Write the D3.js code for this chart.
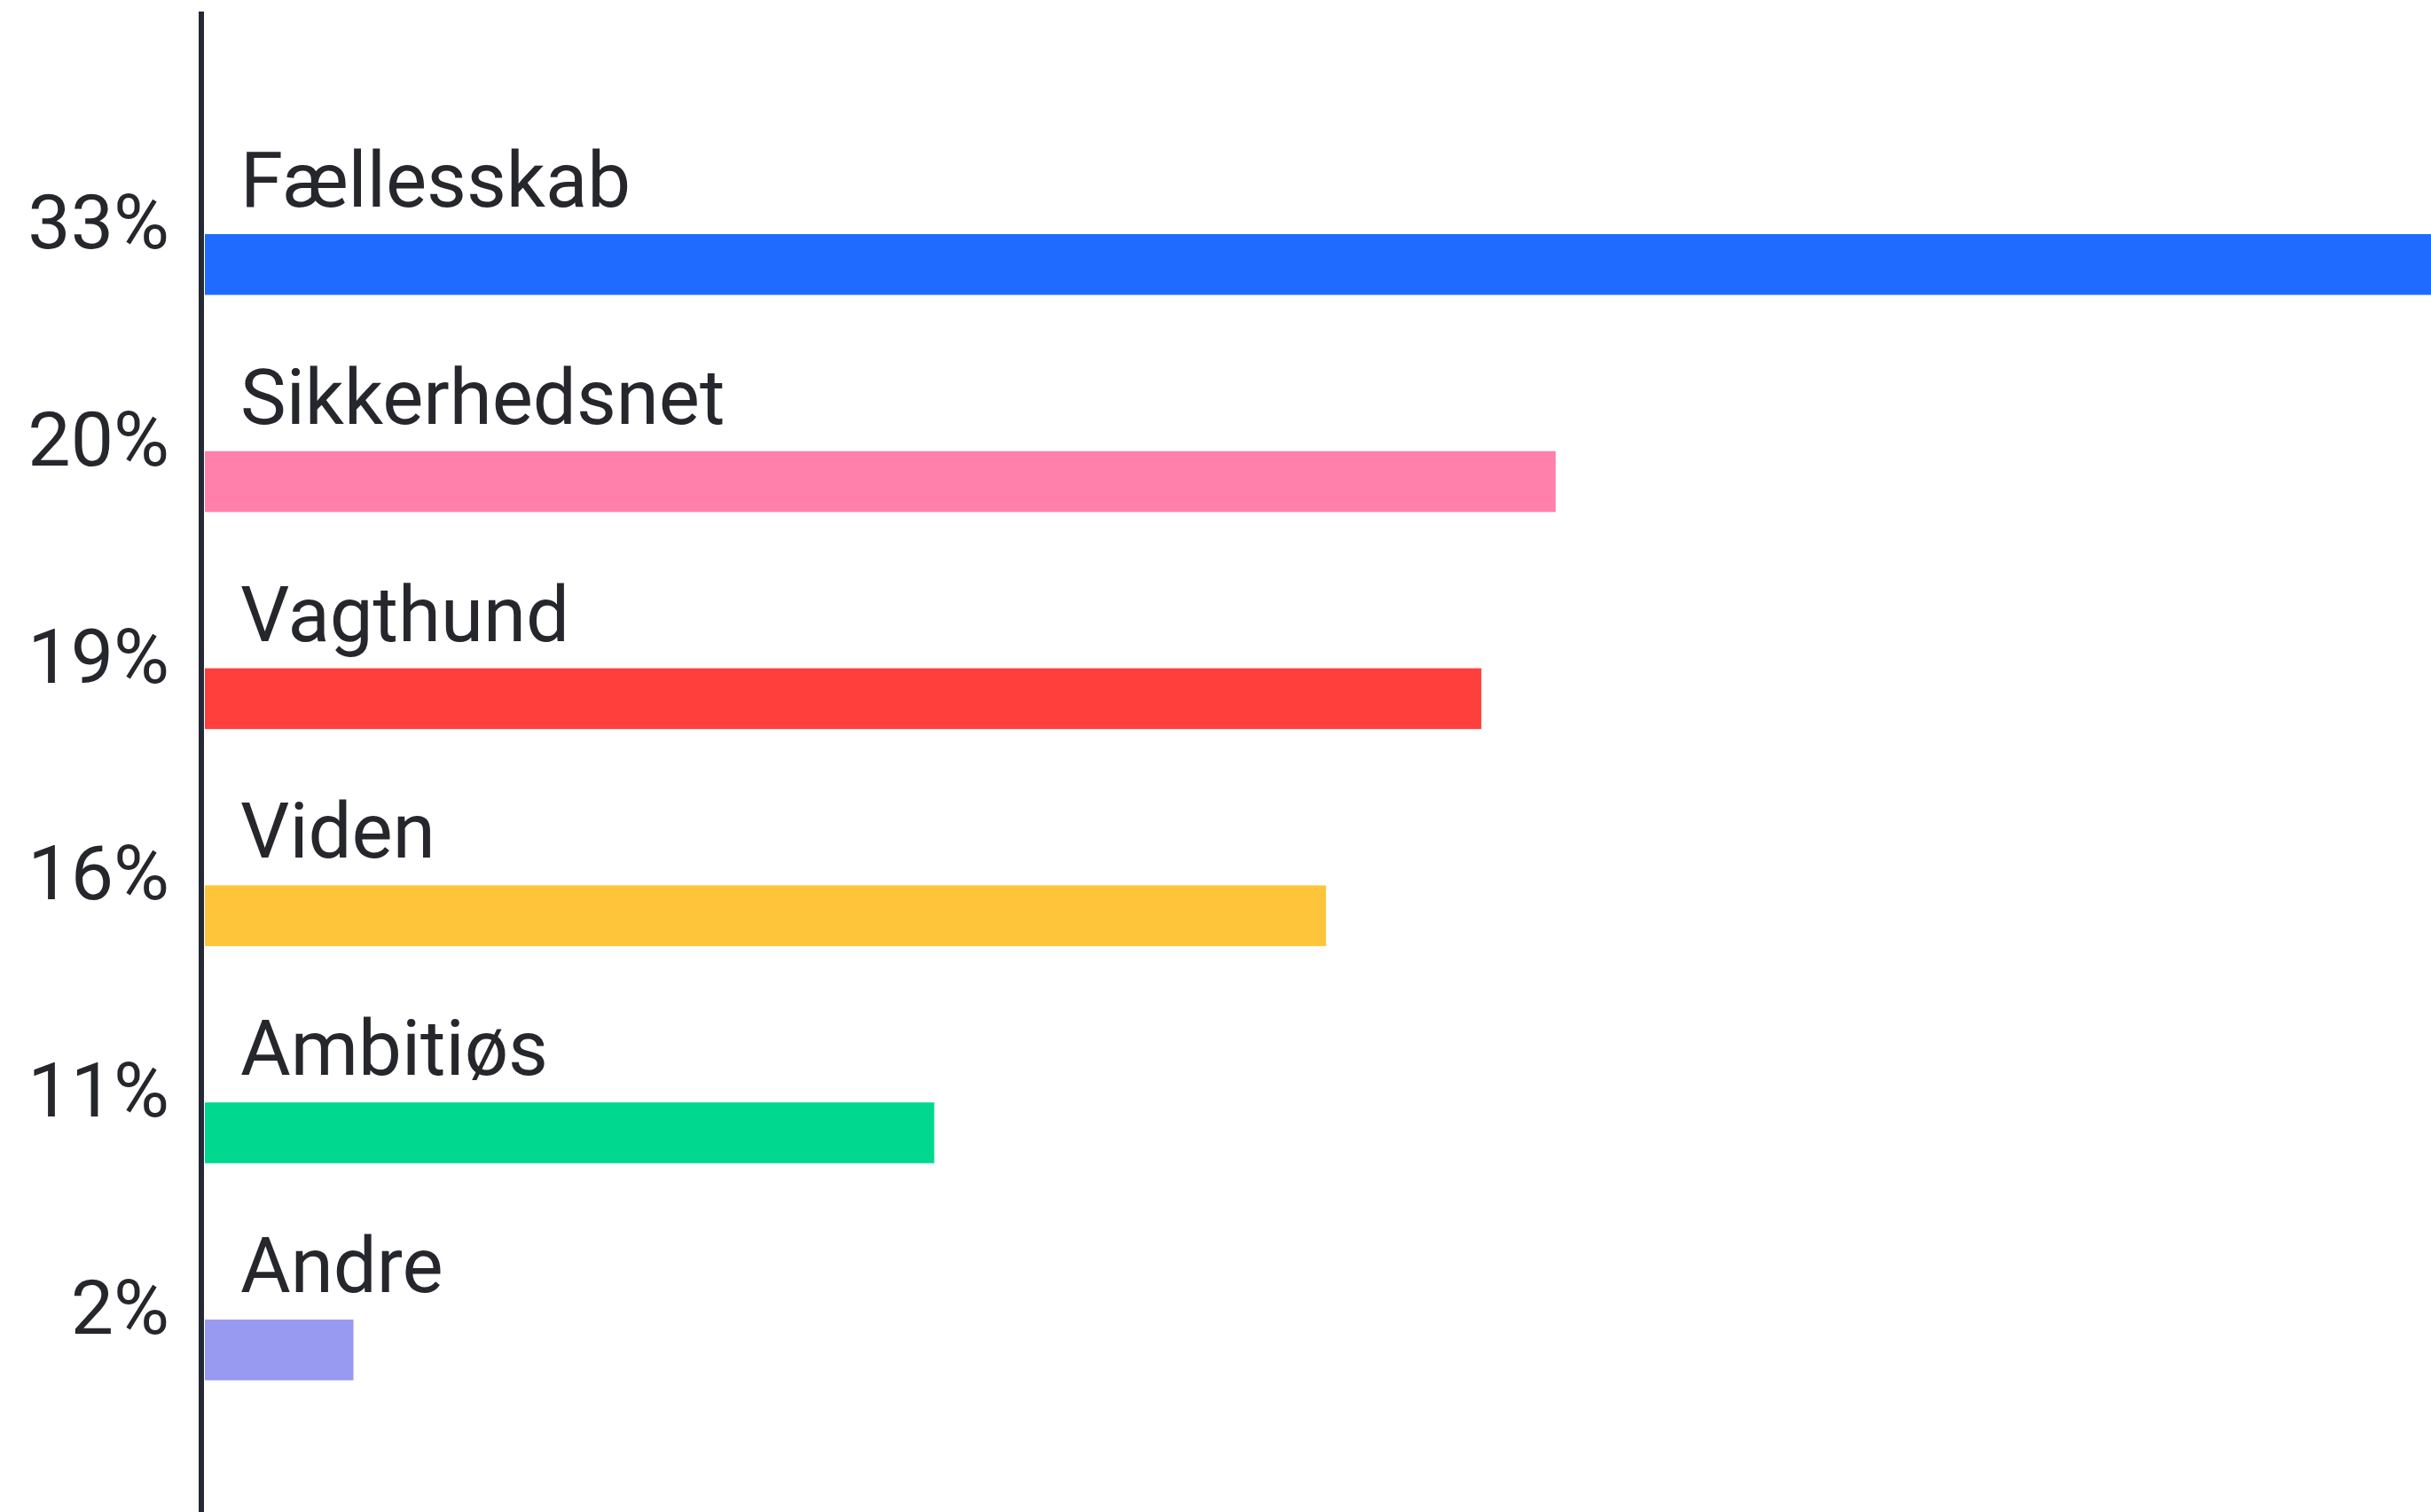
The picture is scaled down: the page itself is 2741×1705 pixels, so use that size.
<!DOCTYPE html>
<html>
<head>
<meta charset="utf-8">
<script src="https://cdn.jsdelivr.net/npm/d3@7"></script>
<style>
  body { margin: 0; background: #fff; }
  svg { display: block; }
</style>
</head>
<body>
<div class="chartHolder"></div>
<script>
var w = 2741,
    h = 1705;

// data (bar lengths) + the printed labels
var categories = ["Fællesskab", "Sikkerhedsnet", "Vagthund", "Viden", "Ambitiøs", "Andre"];
var values = [33.2, 20.0, 18.9, 16.6, 10.8, 2.2];
var valueLabels = ["33%", "20%", "19%", "16%", "11%", "2%"];
var colors = ["#1f6bff", "#ff80aa", "#ff3f3b", "#ffc53a", "#00d890", "#989af1"];

var textColor = "#25272d";

var svg = d3.select(".chartHolder").append("svg")
    .attr("width", w)
    .attr("height", h);

var x = d3.scaleLinear()
    .domain([0, 33])
    .range([231, 2744]);

var y = d3.scaleBand()
    .domain(categories)
    .range([264, 1556.5])
    .paddingInner(0.72)
    .paddingOuter(0);

// bars
svg.selectAll(".bar")
    .data(categories)
    .enter().append("rect")
    .attr("class", "bar")
    .attr("x", x(0))
    .attr("y", function(d) { return y(d); })
    .attr("width", function(d, i) { return x(values[i]) - x(0); })
    .attr("height", y.bandwidth())
    .attr("fill", function(d, i) { return colors[i]; });

// category names above the bars
svg.selectAll(".catLabel")
    .data(categories)
    .enter().append("text")
    .attr("class", "catLabel")
    .attr("x", 271)
    .attr("y", function(d) { return y(d) - 31; })
    .attr("fill", textColor)
    .style("font-family", "Roboto, sans-serif")
    .style("font-size", "87px")
    .text(function(d) { return d; });

// percentages left of the axis
svg.selectAll(".valLabel")
    .data(categories)
    .enter().append("text")
    .attr("class", "valLabel")
    .attr("x", 191)
    .attr("y", function(d) { return y(d) + 16; })
    .attr("fill", textColor)
    .style("font-family", "Roboto, sans-serif")
    .style("font-size", "86px")
    .style("text-anchor", "end")
    .text(function(d, i) { return valueLabels[i]; });

// vertical axis line
svg.append("line")
    .attr("x1", 227)
    .attr("x2", 227)
    .attr("y1", 13)
    .attr("y2", h)
    .attr("stroke", "#252935")
    .attr("stroke-width", 6);
</script>
</body>
</html>
